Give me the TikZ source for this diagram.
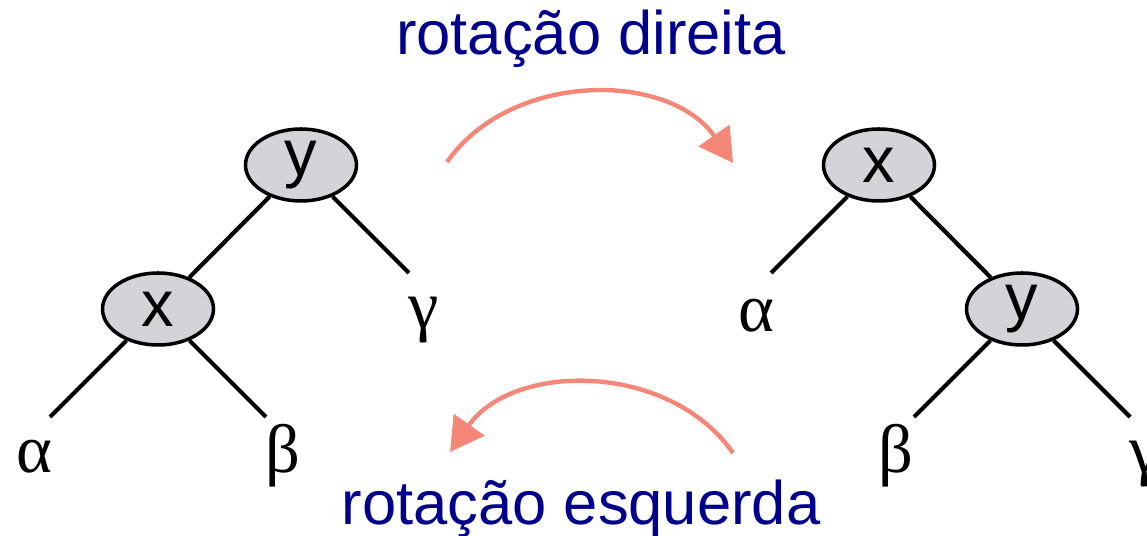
\documentclass[tikz,border=0pt]{standalone}
\usepackage{fontspec}
\setmainfont{Liberation Sans}
\newfontfamily\greekfont{Liberation Serif}
\usetikzlibrary{shapes.geometric,arrows.meta}
\definecolor{rotblue}{RGB}{0,0,139}
\definecolor{rotsalmon}{RGB}{245,135,120}
\definecolor{nodegray}{RGB}{212,211,216}

\begin{document}
\begin{tikzpicture}[>={Triangle[length=19pt,width=21pt]},
    tnode/.style={ellipse,draw,line width=2pt,fill=nodegray,minimum width=2.22cm,
      minimum height=1.44cm,inner sep=0pt,font=\fontsize{37}{40}\selectfont},
    tedge/.style={line width=2.4pt},
    sub/.style={anchor=base,font=\greekfont\fontsize{39}{40}\selectfont},
    rot/.style={rotsalmon,line width=2.5pt,->},
    lbl/.style={anchor=base,rotblue,font=\fontsize{35}{40}\selectfont}]
  \useasboundingbox (0,0) rectangle (22.94,10.72);
  % arvore antes
  \node[tnode] (ly) at (6.02,7.42) {y};
  \node[tnode] (lx) at (3.16,4.54) {x};
  \coordinate (lg) at (8.18,5.26);
  \coordinate (la) at (1.00,2.38);
  \coordinate (lb) at (5.32,2.38);
  \draw[tedge] (ly) -- (lx);
  \draw[tedge] (ly) -- (lg);
  \draw[tedge] (lx) -- (la);
  \draw[tedge] (lx) -- (lb);
  \node[sub] (lgt) at ([xshift=0.3cm,yshift=-1.12cm]lg) {γ};
  \node[sub] (lat) at ([xshift=-0.32cm,yshift=-1.12cm]la) {α};
  \node[sub] (lbt) at ([xshift=0.34cm,yshift=-1.12cm]lb) {β};
  % arvore depois
  \node[tnode] (rx) at (17.58,7.42) {x};
  \node[tnode] (ry) at (20.44,4.54) {y};
  \coordinate (ra) at (15.42,5.26);
  \coordinate (rb) at (18.28,2.38);
  \coordinate (rg) at (22.60,2.38);
  \draw[tedge] (rx) -- (ry);
  \draw[tedge] (rx) -- (ra);
  \draw[tedge] (ry) -- (rb);
  \draw[tedge] (ry) -- (rg);
  \node[sub] (rat) at ([xshift=-0.3cm,yshift=-1.18cm]ra) {α};
  \node[sub] (rbt) at ([xshift=-0.36cm,yshift=-1.12cm]rb) {β};
  \node[sub] (rgt) at ([xshift=0.3cm,yshift=-1.12cm]rg) {γ};
  % rotacoes
  \coordinate (rdA) at (8.94,7.48);
  \coordinate (rdB) at (14.66,7.46);
  \draw[rot] (rdA) to[bend left=55] (rdB);
  \coordinate (reA) at (14.66,1.66);
  \coordinate (reB) at (9.00,1.68);
  \draw[rot] (reA) to[bend right=55] (reB);
  \node[lbl] (rd) at (11.82,9.62) {rotação direita};
  \node[lbl] (re) at (11.62,0.22) {rotação esquerda};
\end{tikzpicture}
\end{document}
